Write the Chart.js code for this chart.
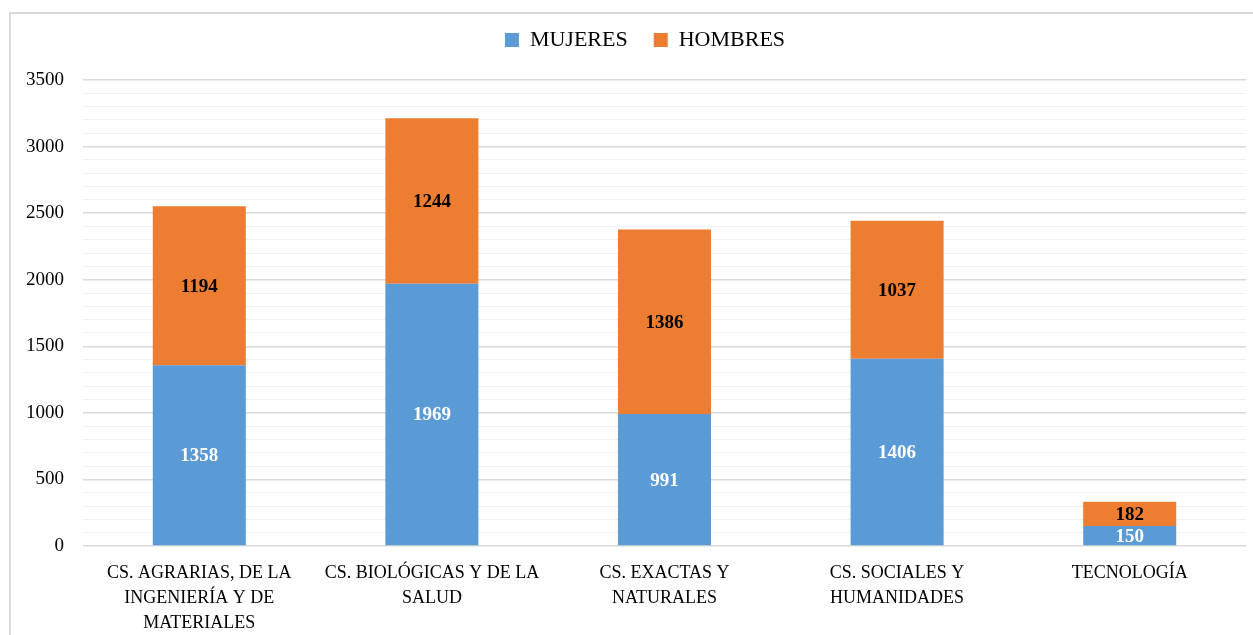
<!DOCTYPE html>
<html>
<head>
<meta charset="utf-8">
<script src="https://cdn.jsdelivr.net/npm/chart.js@4.4.1/dist/chart.umd.min.js"></script>
<style>
  html, body { margin: 0; padding: 0; background: #fff; overflow: hidden; }
  #frame {
    position: absolute; left: 9px; top: 12px; width: 1300px; height: 700px;
    border-top: 2px solid #d9d9d9; border-left: 2px solid #d9d9d9;
  }
  #wrap { position: absolute; left: 0; top: 0; width: 1253px; height: 635px; }
</style>
</head>
<body>
<div id="frame"></div>
<div id="wrap"><canvas id="chart" width="1253" height="635"></canvas></div>
<script>
  // categories and values
  var categories = [
    ['CS. AGRARIAS, DE LA', 'INGENIERÍA Y DE', 'MATERIALES'],
    ['CS. BIOLÓGICAS Y DE LA', 'SALUD'],
    ['CS. EXACTAS Y', 'NATURALES'],
    ['CS. SOCIALES Y', 'HUMANIDADES'],
    'TECNOLOGÍA'
  ];
  var mujeres = [1358, 1969, 991, 1406, 150];
  var hombres = [1194, 1244, 1386, 1037, 182];

  var serif = '"Liberation Serif", "DejaVu Serif", serif';

  // value labels in the middle of each segment
  var segmentLabels = {
    id: 'segmentLabels',
    afterDatasetsDraw: function(chart) {
      var ctx = chart.ctx;
      ctx.save();
      ctx.font = 'bold 19px ' + serif;
      ctx.textAlign = 'center';
      ctx.textBaseline = 'middle';
      chart.data.datasets.forEach(function(ds, i) {
        var meta = chart.getDatasetMeta(i);
        ctx.fillStyle = ds.labelColor;
        meta.data.forEach(function(bar, j) {
          ctx.fillText(ds.data[j], bar.x, (bar.y + bar.base) / 2 + 1);
        });
      });
      ctx.restore();
    }
  };

  // nudge the legend: up towards the frame, a bit right like the original
  var legendShift = {
    id: 'legendShift',
    afterLayout: function(chart) {
      var lg = chart.legend;
      lg.left += 22; lg.right += 22;
      lg.top -= 19; lg.bottom -= 19;
    }
  };

  new Chart(document.getElementById('chart'), {
    type: 'bar',
    data: {
      labels: categories,
      datasets: [
        { label: 'MUJERES', data: mujeres, backgroundColor: '#5b9bd5', labelColor: '#ffffff' },
        { label: 'HOMBRES', data: hombres, backgroundColor: '#ed7d31', labelColor: '#000000' }
      ]
    },
    options: {
      responsive: false,
      animation: false,
      layout: { padding: { left: 0, right: 7, top: 22, bottom: 0 } },
      datasets: { bar: { categoryPercentage: 1, barPercentage: 0.4 } },
      plugins: {
        legend: {
          position: 'top',
          labels: {
            font: { family: serif, size: 22 },
            color: '#000',
            boxWidth: 14, boxHeight: 14,
            padding: 26
          }
        },
        tooltip: { enabled: false }
      },
      scales: {
        x: {
          stacked: true,
          grid: { display: false },
          border: { display: false },
          ticks: { font: { family: serif, size: 18, lineHeight: 1.38 }, color: '#000', maxRotation: 0, padding: 7 },
          afterFit: function(s) { s.height = 89; }
        },
        y: {
          stacked: true,
          min: 0, max: 3500,
          border: { display: false },
          grid: {
            drawTicks: false,
            color: function(c) { return c.tick.value % 500 === 0 ? '#d9d9d9' : '#f0f0f0'; },
            lineWidth: function(c) { return c.tick.value % 500 === 0 ? 1.5 : 1; }
          },
          ticks: {
            stepSize: 100,
            autoSkip: false,
            padding: 19,
            font: { family: serif, size: 19 },
            color: '#000',
            callback: function(v) { return v % 500 === 0 ? v : ''; }
          },
          afterFit: function(s) { s.width = 83; }
        }
      }
    },
    plugins: [segmentLabels, legendShift]
  });
</script>
</body>
</html>
